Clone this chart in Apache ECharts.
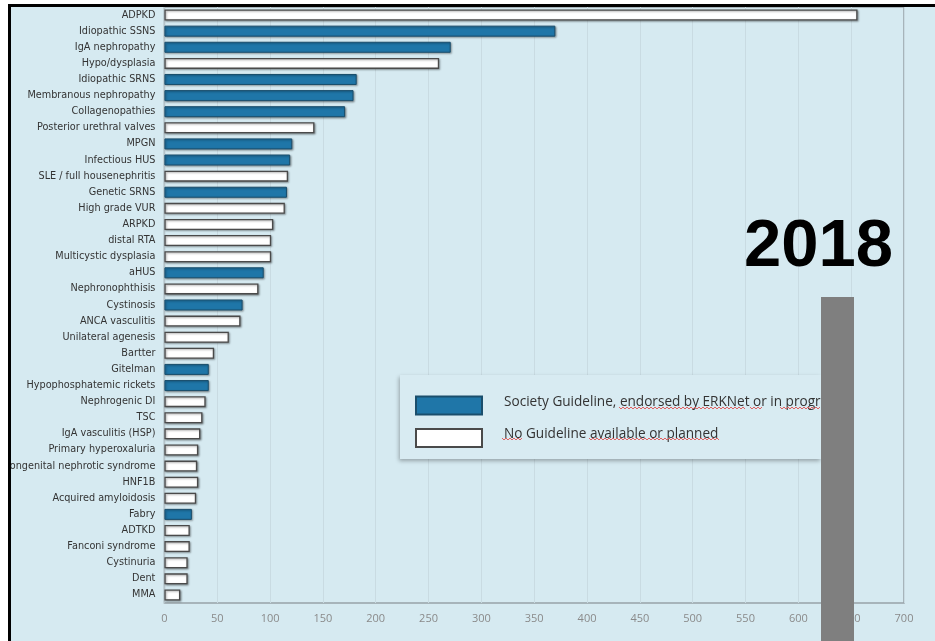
<!DOCTYPE html>
<html>
<head>
<meta charset="utf-8">
<script src="https://cdn.jsdelivr.net/npm/echarts@6/dist/echarts.min.js"></script>
<style>
html,body{margin:0;padding:0;background:#fff;}
#chart{width:935px;height:641px;}
</style>
</head>
<body>
<div id="chart"></div>
<script>
const categories = ["ADPKD","Idiopathic SSNS","IgA nephropathy","Hypo/dysplasia","Idiopathic SRNS","Membranous nephropathy","Collagenopathies","Posterior urethral valves","MPGN","Infectious HUS","SLE / full housenephritis","Genetic SRNS","High grade VUR","ARPKD","distal RTA","Multicystic dysplasia","aHUS","Nephronophthisis","Cystinosis","ANCA vasculitis","Unilateral agenesis","Bartter","Gitelman","Hypophosphatemic rickets","Nephrogenic DI","TSC","IgA vasculitis (HSP)","Primary hyperoxaluria","Congenital nephrotic syndrome","HNF1B","Acquired amyloidosis","Fabry","ADTKD","Fanconi syndrome","Cystinuria","Dent","MMA"];
const values = [656,370,271,260,182,179,171,142,121,119,117,116,114,103,101,101,94,89,74,72,61,47,42,42,39,36,34,32,31,32,30,26,24,24,22,22,15];
const hasGuideline = [0,1,1,0,1,1,1,0,1,1,0,1,0,0,0,0,1,0,1,0,0,0,1,1,0,0,0,0,0,0,0,1,0,0,0,0,0];
const seriesNames = ["Society Guideline, endorsed by ERKNet or in progress","No Guideline available or planned"];
const xTicks = {min:0, max:700, interval:50};
const yearLabel = "2018";

const guidelineData = values.map((v,i)=> hasGuideline[i] ? v : '-');
const noGuidelineData = values.map((v,i)=> hasGuideline[i] ? '-' : v);

// spell-check style wavy underlines (decoration): [x1, x2, y]
const squiggles = [[619,745,408],[750,763,408],[780,821,408],[502,522,439],[589,720,439]];
function zigzag(x1,x2,y){
  const pts=[]; let up=true;
  for(let x=x1;x<=x2;x+=2){ pts.push([x, y + (up?-1:1)]); up=!up; }
  return pts;
}

const chart = echarts.init(document.getElementById('chart'));
const bg = '#d6eaf1';
const graphics = [
  {type:'rect', z:3, shape:{x:400, y:375, width:421, height:84},
   style:{fill:'#d8ebf2', shadowBlur:4, shadowOffsetX:-1, shadowOffsetY:2, shadowColor:'rgba(0,0,0,0.3)'}},
  {type:'text', z:10, left:744, top:214,
   style:{text:yearLabel, fill:'#000', font:'bold 67px "Liberation Sans"'}},
  {type:'rect', z:10, shape:{x:821, y:297, width:33, height:344}, style:{fill:'#7f7f7f'}},
  {type:'rect', z:20, shape:{x:0, y:0, width:8, height:641}, style:{fill:'#fff'}},
  {type:'rect', z:20, shape:{x:0, y:0, width:935, height:4}, style:{fill:'#fff'}},
  {type:'rect', z:21, shape:{x:8, y:4, width:3, height:637}, style:{fill:'#000'}},
  {type:'rect', z:21, shape:{x:8, y:4, width:927, height:3}, style:{fill:'#000'}}
];
squiggles.forEach(s=>graphics.push({type:'polyline', z:7, shape:{points:zigzag(s[0],s[1],s[2])},
  style:{stroke:'#e06060', lineWidth:1, fill:null}}));

chart.setOption({
  backgroundColor: bg,
  animation: false,
  grid: {left:164, right:31, top:7, bottom:38, show:true, borderColor:'#98a3a8', borderWidth:1.5, backgroundColor:'transparent'},
  xAxis: {
    type:'value', min:xTicks.min, max:xTicks.max, interval:xTicks.interval,
    axisLine:{show:false}, axisTick:{show:false},
    axisLabel:{color:'#8a8a8a', fontSize:11, margin:10, fontFamily:'Open Sans'},
    splitLine:{show:true, lineStyle:{color:'#c9dbe2', width:1}}
  },
  yAxis: {
    type:'category', data:categories, inverse:true,
    axisLine:{show:true, lineStyle:{color:'#b5c3c9'}}, axisTick:{show:false},
    axisLabel:{color:'#333', fontSize:9.7, margin:9, fontFamily:'DejaVu Sans', interval:0}
  },
  legend: {
    orient:'vertical', left:415, top:395, padding:0, itemWidth:66, itemHeight:18, itemGap:12,
    z:6, selectedMode:false,
    formatter: name => '{a|' + name + '}',
    textStyle:{color:'#333', fontSize:13.6, fontFamily:'Open Sans',
      rich:{a:{color:'#333', fontSize:13.6, fontFamily:'Open Sans', padding:[0,0,7,17]}}},
    data:[{name:seriesNames[0], icon:'rect'},{name:seriesNames[1], icon:'rect'}]
  },
  series: [
    {name:seriesNames[0], type:'bar', stack:'s', data:guidelineData, barWidth:11,
     itemStyle:{color:'#1f76a8', borderColor:'#1a4e6c', borderWidth:1, shadowBlur:2, shadowOffsetX:1, shadowOffsetY:1, shadowColor:'rgba(0,0,0,0.35)'}},
    {name:seriesNames[1], type:'bar', stack:'s', data:noGuidelineData, barWidth:11,
     itemStyle:{color:'#ffffff', borderColor:'#4a4a4a', borderWidth:1.3, shadowBlur:2, shadowOffsetX:1, shadowOffsetY:1, shadowColor:'rgba(0,0,0,0.35)'}}
  ],
  graphic: graphics
});
</script>
</body>
</html>
